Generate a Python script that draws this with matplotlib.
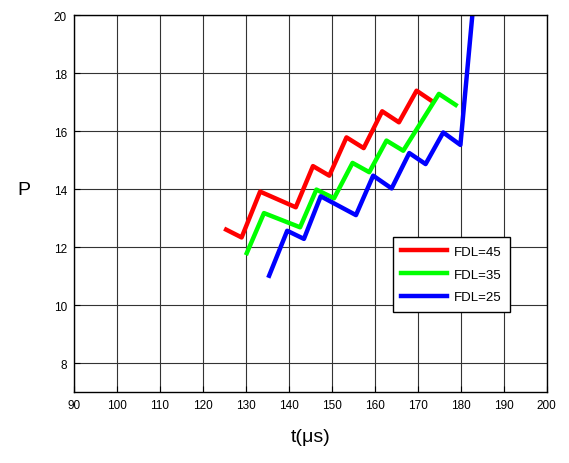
import matplotlib
matplotlib.use("Agg")
import matplotlib.pyplot as plt

plt.rcParams['font.family'] = ['Liberation Sans', 'DejaVu Sans']

# FDL=45
t45 = [125.4, 129.0, 133.3, 141.6, 145.6, 149.4, 153.4, 157.4, 161.7, 165.6, 169.7, 173.2]
p45 = [12.60, 12.33, 13.91, 13.37, 14.79, 14.46, 15.78, 15.41, 16.68, 16.30, 17.39, 17.04]
# FDL=35
t35 = [130.2, 134.2, 142.6, 146.4, 150.5, 154.8, 158.7, 162.7, 166.6, 174.9, 178.8]
p35 = [11.79, 13.17, 12.68, 13.98, 13.68, 14.90, 14.58, 15.67, 15.32, 17.28, 16.90]
# FDL=25
t25 = [135.4, 139.6, 143.5, 147.4, 155.6, 159.6, 163.9, 168.0, 171.8, 175.9, 179.9, 183.3]
p25 = [11.01, 12.56, 12.28, 13.75, 13.10, 14.46, 14.02, 15.24, 14.86, 15.95, 15.52, 21.0]

xticks = list(range(90, 201, 10))
yticks = list(range(8, 21, 2))

fig = plt.figure(figsize=(5.69, 4.64), dpi=100)
ax = fig.add_axes([0.130, 0.153, 0.831, 0.8125])

ax.plot(t45, p45, color='#ff0000', lw=3.2, label='FDL=45')
ax.plot(t35, p35, color='#00ff00', lw=3.2, label='FDL=35')
ax.plot(t25, p25, color='#0000ff', lw=3.2, label='FDL=25')

ax.set_xlim(90, 200)
ax.set_ylim(7, 20)
ax.set_xticks(xticks)
ax.set_yticks(yticks)
ax.tick_params(direction='in', length=4, labelsize=8.5, colors='black', pad=5)
ax.grid(True, color='#333333', lw=0.8)
for s in ax.spines.values():
    s.set_linewidth(1.0)

ax.set_xlabel('t(μs)', fontsize=14)
ax.xaxis.set_label_coords(0.5, -0.095)
ax.set_ylabel('P', fontsize=14, rotation=0, va='center', ha='center')
ax.yaxis.set_label_coords(-0.106, 0.538)

leg = ax.legend(loc='upper left', bbox_to_anchor=(0.674, 0.411), fontsize=9.5,
                fancybox=False, edgecolor='black', framealpha=1,
                handlelength=3.5, handletextpad=0.5, borderpad=0.65,
                labelspacing=0.8, borderaxespad=0)
leg.get_frame().set_linewidth(1.0)

fig.savefig('out.png', dpi=100)
